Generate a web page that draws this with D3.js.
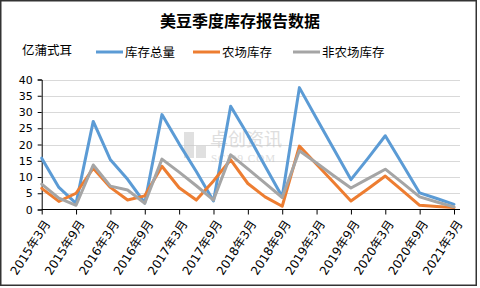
<!DOCTYPE html>
<html><head><meta charset="utf-8">
<script src="https://cdn.jsdelivr.net/npm/d3@7/dist/d3.min.js"></script>
<style>
html,body{margin:0;padding:0;background:#fff;}
svg{display:block;}
</style></head>
<body>
<svg id="c" width="480" height="288"></svg>
<script>
const categories = [
  "2015年3月","2015年6月","2015年9月","2015年12月",
  "2016年3月","2016年6月","2016年9月","2016年12月",
  "2017年3月","2017年6月","2017年9月","2017年12月",
  "2018年3月","2018年6月","2018年9月","2018年12月",
  "2019年3月","2019年6月","2019年9月","2019年12月",
  "2020年3月","2020年6月","2020年9月","2020年12月",
  "2021年3月"];
const totalStocks = [15.8,6.8,1.9,27.1,15.3,9.3,2.0,29.2,20.2,11.7,2.6,31.8,22.9,13.4,3.9,37.5,28.0,18.6,9.2,15.8,22.7,13.9,5.1,3.4,1.6];
const farmStocks  = [6.5,2.5,5.0,12.7,6.8,2.9,4.2,13.3,6.7,2.9,8.8,15.3,8.0,3.9,1.0,19.5,13.9,8.3,2.6,6.4,10.3,5.8,1.3,0.9,0.6];
const offFarmStocks = [7.8,3.5,1.3,13.7,7.2,6.0,1.9,15.5,11.5,7.3,2.9,16.8,12.5,8.1,3.7,18.1,14.3,10.4,6.6,9.5,12.4,8.2,3.9,2.3,0.8];
const yTicks = [0,5,10,15,20,25,30,35,40];
const xTickLabels = categories.filter((d,i)=>i%2===0);
const seriesNames = ["库存总量","农场库存","非农场库存"];
const colors = ["#5B9BD5","#ED7D31","#A5A5A5"];
const title = "美豆季度库存报告数据";
const unit = "亿蒲式耳";

const svg = d3.select("#c");
const cjk = "'Noto Sans CJK SC','DejaVu Sans',sans-serif";
const num = "'DejaVu Sans','Noto Sans CJK SC',sans-serif";

// outer frame
svg.append("rect").attr("x",0.75).attr("y",0.75).attr("width",475.5).attr("height",284.5)
  .attr("fill","#fff").attr("stroke","#333").attr("stroke-width",1.5);

const x = d3.scalePoint().domain(categories).range([41.7,454]);
const y = d3.scaleLinear().domain([0,40]).range([209.5,79.5]);
const plotRight = 460;

// gridlines
svg.append("g").selectAll("line").data(yTicks.filter(d=>d>0)).join("line")
  .attr("x1",41.7).attr("x2",plotRight)
  .attr("y1",d=>Math.round(y(d))+0.5).attr("y2",d=>Math.round(y(d))+0.5)
  .attr("stroke","#d9d9d9").attr("stroke-width",1);

// watermark
const wm = svg.append("g").attr("opacity",0.55);
wm.append("rect").attr("x",184).attr("y",132).attr("width",10).attr("height",26).attr("fill","#c8c8c8");
wm.append("rect").attr("x",196).attr("y",146).attr("width",10).attr("height",12).attr("fill","#c8c8c8");
wm.append("text").attr("x",210).attr("y",146).text("卓创资讯")
  .attr("font-family",cjk).attr("font-size",18).attr("fill","#c4c4c4");
wm.append("text").attr("x",211).attr("y",162).text("SCI99.COM")
  .attr("font-family","'Liberation Serif',serif").attr("font-size",11).attr("fill","#c4c4c4").attr("letter-spacing",1);

// y axis
const yAxis = svg.append("g").attr("transform","translate(41.7,0)")
  .call(d3.axisLeft(y).tickValues(yTicks).tickSize(4).tickPadding(5));
yAxis.select(".domain").attr("stroke","#000");
yAxis.selectAll(".tick line").attr("stroke","#000");
yAxis.selectAll("text").attr("font-family",num).attr("font-size",11).attr("fill","#000");

// x axis
const xAxis = svg.append("g").attr("transform","translate(0,209.5)")
  .call(d3.axisBottom(x).tickValues(xTickLabels).tickSize(5).tickSizeOuter(0));
xAxis.select(".domain").attr("stroke","#000").attr("d","M41.7,0H"+plotRight);
xAxis.selectAll(".tick line").attr("stroke","#000");
xAxis.selectAll("text")
  .attr("font-family",num).attr("font-size",12).attr("fill","#000")
  .attr("text-anchor","end").attr("dy","0.35em")
  .attr("transform","translate(5,12) rotate(-57)").attr("y",0).attr("x",0);

// lines
const seriesData = [totalStocks, farmStocks, offFarmStocks];
const line = d3.line().x((d,i)=>x(categories[i])).y(d=>y(d)).curve(d3.curveLinear);
svg.append("g").selectAll("path").data(seriesData).join("path")
  .attr("d",d=>line(d)).attr("fill","none")
  .attr("stroke",(d,i)=>colors[i]).attr("stroke-width",3)
  .attr("stroke-linejoin","round").attr("stroke-linecap","round");

// title
svg.append("text").attr("x",240).attr("y",27).attr("text-anchor","middle")
  .attr("font-family",cjk).attr("font-weight","bold").attr("font-size",16).text(title);

// unit label
svg.append("text").attr("x",22).attr("y",55)
  .attr("font-family",cjk).attr("font-size",12.5).text(unit);

// legend
const legX = [96,193,293];
const lg = svg.append("g").selectAll("g").data(seriesNames).join("g")
  .attr("transform",(d,i)=>`translate(${legX[i]},52)`);
lg.append("line").attr("x1",0).attr("x2",27).attr("y1",0).attr("y2",0)
  .attr("stroke",(d,i)=>colors[i]).attr("stroke-width",3);
lg.append("text").attr("x",29).attr("y",4.5).text(d=>d)
  .attr("font-family",cjk).attr("font-size",12.5);
</script>
</body></html>
